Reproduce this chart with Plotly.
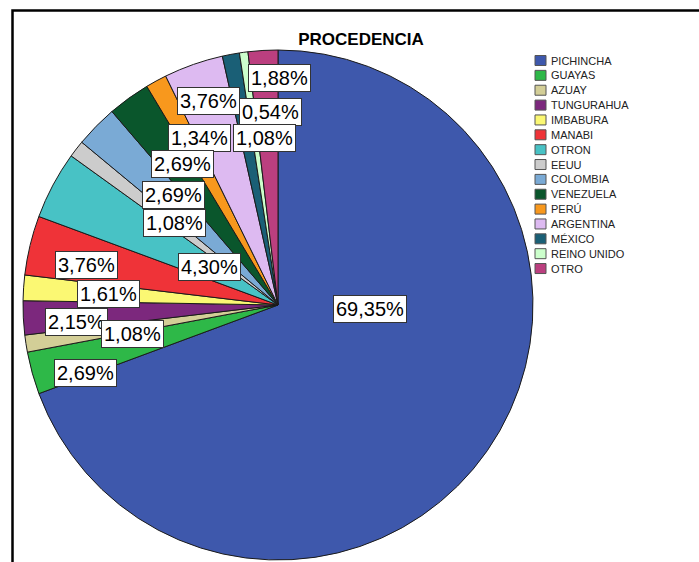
import plotly.graph_objects as go

# data
regions = ["PICHINCHA", "GUAYAS", "AZUAY", "TUNGURAHUA", "IMBABURA", "MANABI",
           "OTRON", "EEUU", "COLOMBIA", "VENEZUELA", "PERÚ", "ARGENTINA",
           "MÉXICO", "REINO UNIDO", "OTRO"]
percents = [69.35, 2.69, 1.08, 2.15, 1.61, 3.76, 4.30, 1.08, 2.69, 2.69,
            1.34, 3.76, 1.08, 0.54, 1.88]

# SPSS default palette
colors = ["#3E58AC", "#2EB848", "#D3CE97", "#7C287D", "#FBF873", "#EF3338",
          "#48C2C5", "#CCCCCC", "#7AAAD5", "#0A562C", "#F8981D", "#DDBAF1",
          "#1A5F76", "#CCFFCC", "#BB3F7F"]

W, H = 699, 562
FONT = "Arial, Liberation Sans, sans-serif"

# where SPSS dropped the value boxes (pixel centres)
label_xy = [(370, 309), (85, 373), (132, 334), (76, 322), (108, 294), (86, 265),
            (209, 267), (174, 223), (173, 195), (182, 164), (199, 138),
            (208, 101), (264, 138), (270, 112), (279, 78)]


def to_paper(x, y):
    return x / W, 1 - y / H


fig = go.Figure(go.Pie(
    labels=regions, values=percents,
    sort=False, direction="clockwise", rotation=0,
    marker=dict(colors=colors, line=dict(color="#1a1a1a", width=1)),
    textinfo="none", hoverinfo="label+percent", showlegend=False,
    domain=dict(x=[23 / W, 533 / W], y=[1 - 560 / H, 1 - 50 / H]),
))

# value boxes, drawn last-first so earlier slices sit on top
for i in reversed(range(len(regions))):
    x, y = to_paper(*label_xy[i])
    fig.add_annotation(
        x=x, y=y, xref="paper", yref="paper", showarrow=False,
        text=f"{percents[i]:.2f}%".replace(".", ","),
        font=dict(family=FONT, size=20, color="black"),
        bgcolor="white", bordercolor="#333", borderwidth=1, borderpad=2,
        xanchor="center", yanchor="middle",
    )

# legend built by hand to get the tight SPSS spacing
for i, name in enumerate(regions):
    cy = 60.5 + i * 14.86
    x0, y0 = to_paper(535, cy - 5)
    x1, y1 = to_paper(546, cy + 5)
    fig.add_shape(type="rect", xref="paper", yref="paper",
                  x0=x0, x1=x1, y0=y1, y1=y0,
                  fillcolor=colors[i], line=dict(color="#555", width=1))
    tx, ty = to_paper(549, cy)
    fig.add_annotation(x=tx, y=ty, xref="paper", yref="paper", showarrow=False,
                       text=name, font=dict(family=FONT, size=11, color="#222"),
                       xanchor="left", yanchor="middle")

# chart frame (only left and top edges visible in the crop)
fx, fy = to_paper(12.5, 10.5)
fig.add_shape(type="rect", xref="paper", yref="paper",
              x0=fx, x1=1.05, y0=-0.05, y1=fy,
              line=dict(color="black", width=2.5))

tx, ty = to_paper(361, 39)
fig.update_layout(
    title=dict(text="<b>PROCEDENCIA</b>", x=tx, y=ty, xanchor="center",
               yanchor="middle", font=dict(family=FONT, size=17, color="black")),
    width=W, height=H,
    margin=dict(l=0, r=0, t=0, b=0),
    paper_bgcolor="white", plot_bgcolor="white",
)

# drop the default 8px page margin so the figure sits at the window corner
fig.write_html("out.html", config={"displayModeBar": False},
               post_script="document.body.style.margin='0';")
